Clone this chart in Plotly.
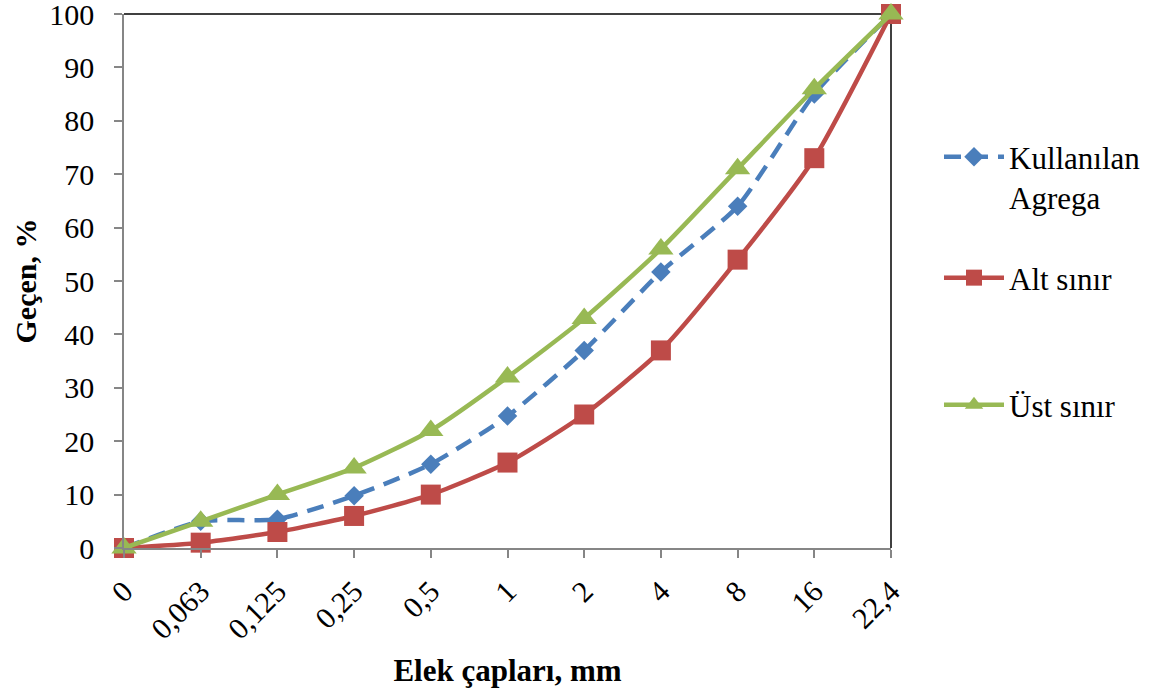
import plotly.graph_objects as go

categories = ["0", "0,063", "0,125", "0,25", "0,5", "1", "2", "4", "8", "16", "22,4"]
kullanilan = [0, 5.0, 5.4, 9.8, 15.7, 24.7, 37, 51.7, 64, 85, 100]
alt_sinir = [0, 1, 3, 6, 10, 16, 25, 37, 54, 73, 100]
ust_sinir = [0, 5, 10, 15, 22, 32, 43, 56, 71, 86, 100]
y_ticks = [0, 10, 20, 30, 40, 50, 60, 70, 80, 90, 100]

FONT = "Liberation Serif, Times New Roman, Times, serif"
BLUE = "#4A7EBB"
RED = "#BE4B48"
GREEN = "#98B954"

fig = go.Figure()
fig.add_trace(go.Scatter(
    x=categories, y=kullanilan, name="Kullanılan<br>Agrega", mode="lines+markers",
    line=dict(color=BLUE, width=4.5, dash="17px,10px", shape="spline", smoothing=0.6),
    marker=dict(symbol="diamond", size=15, color=BLUE),
    cliponaxis=False, legend="legend"))
fig.add_trace(go.Scatter(
    x=categories, y=alt_sinir, name="Alt sınır", mode="lines+markers",
    line=dict(color=RED, width=4.5, shape="spline", smoothing=0.6),
    marker=dict(symbol="square", size=20, color=RED),
    cliponaxis=False, legend="legend2"))
fig.add_trace(go.Scatter(
    x=categories, y=ust_sinir, name="Üst sınır", mode="lines+markers",
    line=dict(color=GREEN, width=4.5, shape="spline", smoothing=0.6),
    marker=dict(symbol="triangle-up", size=22, color=GREEN),
    cliponaxis=False, legend="legend3"))

L, R, T, B = 124, 260, 14, 143
W, H = 1151, 691
pw, ph = W - L - R, H - T - B

def px_x(px):
    return (px - L) / pw

def px_y(py):
    return (H - B - py) / ph

def legend_at(px, py):
    return dict(font=dict(family=FONT, size=31, color="black"),
                bgcolor="rgba(0,0,0,0)", borderwidth=0, valign="top",
                itemwidth=60,
                x=px_x(px), y=px_y(py), xanchor="left", yanchor="top")

fig.update_layout(
    width=W, height=H,
    margin=dict(l=L, r=R, t=T, b=B, autoexpand=False),
    paper_bgcolor="white", plot_bgcolor="white",
    font=dict(family=FONT, size=30, color="black"),
    showlegend=True,
    legend=legend_at(939, 130),
    legend2=legend_at(939, 251),
    legend3=legend_at(939, 378),
    xaxis=dict(
        type="category", range=[0, len(categories) - 1],
        showgrid=False, zeroline=False, automargin=False,
        showline=True, linecolor="#868686", linewidth=1.5,
        ticks="outside", ticklen=8, tickcolor="#868686", tickwidth=1.5,
        tickangle=-45, tickfont=dict(family=FONT, size=30, color="black"),
        ticklabeloverflow="allow", ticklabelstandoff=4,
        title=dict(text="<b>Elek çapları, mm</b>", font=dict(family=FONT, size=31, color="black"), standoff=15),
    ),
    yaxis=dict(
        range=[0, 100], tickvals=y_ticks,
        showgrid=False, zeroline=False, automargin=False,
        showline=True, linecolor="#868686", linewidth=1.5,
        ticks="outside", ticklen=8, tickcolor="#868686", tickwidth=1.5,
        tickfont=dict(family=FONT, size=30, color="black"),
        ticklabeloverflow="allow", ticklabelstandoff=14,
        title=dict(text="<b>Geçen, %</b>", font=dict(family=FONT, size=30, color="black"), standoff=4),
    ),
    shapes=[
        dict(type="line", xref="paper", yref="paper", x0=0, x1=1, y0=1, y1=1,
             line=dict(color="black", width=1.5), layer="below"),
        dict(type="line", xref="paper", yref="paper", x0=1, x1=1, y0=0, y1=1,
             line=dict(color="black", width=1.5), layer="below"),
    ],
)

fig.write_html("out.html")
